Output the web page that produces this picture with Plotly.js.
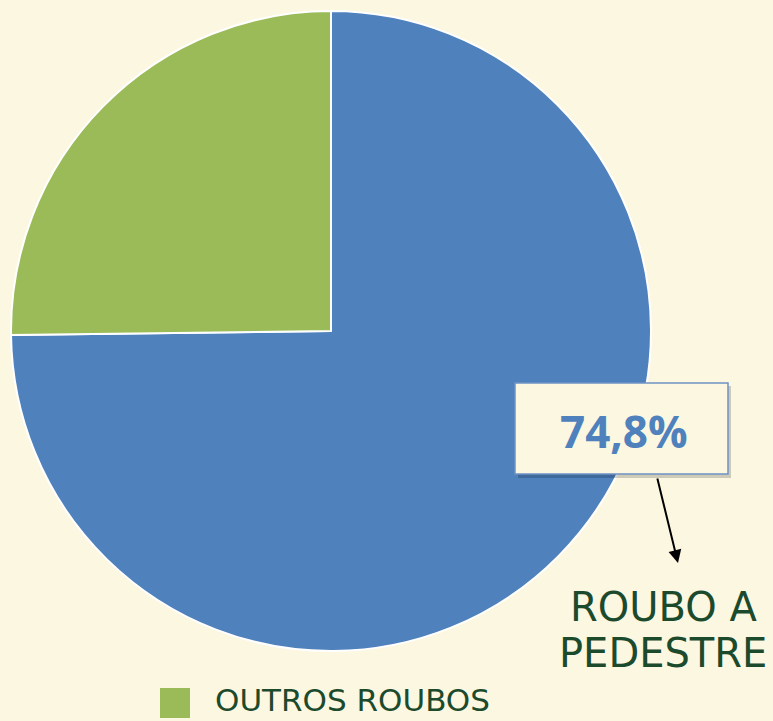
<!DOCTYPE html>
<html><head><meta charset="utf-8">
<script src="https://cdn.plot.ly/plotly-3.0.1.min.js"></script>
<style>html,body{margin:0;padding:0;background:#FCF7E1;}</style>
</head><body>
<div id="chart" style="width:773px;height:721px;"></div>
<script>
const labels = ["ROUBO A PEDESTRE", "OUTROS ROUBOS"];
const values = [74.8, 25.2];
const colors = ["#4F81BD", "#9BBB59"];
const pctLabel = "74,8%";
const calloutLines = ["ROUBO A", "PEDESTRE"];

const W = 773, H = 721;
const px = x => x / W;
const py = y => 1 - y / H;
const textColor = "#1C4A2C";
const font = "DejaVu Sans, sans-serif";

const data = [{
  type: "pie",
  labels: labels,
  values: values,
  marker: {colors: colors, line: {color: "#FFFFFF", width: 2}},
  sort: false,
  direction: "clockwise",
  rotation: 0,
  textinfo: "none",
  hoverinfo: "label+percent",
  domain: {x: [px(11), px(651)], y: [py(651), py(11)]},
  showlegend: false
}];

const layout = {
  width: W, height: H,
  margin: {l: 0, r: 0, t: 0, b: 0},
  paper_bgcolor: "#FCF7E1",
  plot_bgcolor: "#FCF7E1",
  showlegend: false,
  shapes: [
    {type: "rect", xref: "paper", yref: "paper", x0: px(518), x1: px(731), y0: py(478), y1: py(386),
     fillcolor: "rgba(0,0,0,0.18)", line: {width: 0}, layer: "above"},
    {type: "rect", xref: "paper", yref: "paper", x0: px(515), x1: px(728), y0: py(474), y1: py(383),
     fillcolor: "#FCF7E1", line: {color: "#6E92C6", width: 1.5}, layer: "above"},
    {type: "rect", xref: "paper", yref: "paper", x0: px(160), x1: px(190), y0: py(718), y1: py(688),
     fillcolor: colors[1], line: {width: 0}, layer: "above"}
  ],
  annotations: [
    {xref: "paper", yref: "paper", x: px(624), y: py(431), text: "<b>" + pctLabel + "</b>",
     showarrow: false, xanchor: "center", yanchor: "middle",
     font: {family: "Open Sans, sans-serif", size: 44, color: colors[0]}},
    {xref: "paper", yref: "paper", x: px(678), y: py(563), ax: -21, ay: -86, text: "",
     showarrow: true, arrowhead: 2, arrowsize: 1.3, arrowwidth: 2, arrowcolor: "#000000"},
    {xref: "paper", yref: "paper", x: px(663), y: py(607), text: calloutLines[0],
     showarrow: false, xanchor: "center", yanchor: "middle",
     font: {family: font, size: 40, color: textColor}},
    {xref: "paper", yref: "paper", x: px(663), y: py(653), text: calloutLines[1],
     showarrow: false, xanchor: "center", yanchor: "middle",
     font: {family: font, size: 40, color: textColor}},
    {xref: "paper", yref: "paper", x: px(213), y: py(700), text: labels[1],
     showarrow: false, xanchor: "left", yanchor: "middle",
     font: {family: font, size: 31, color: textColor}}
  ]
};

Plotly.newPlot("chart", data, layout, {displayModeBar: false, staticPlot: true});
</script>
</body></html>
